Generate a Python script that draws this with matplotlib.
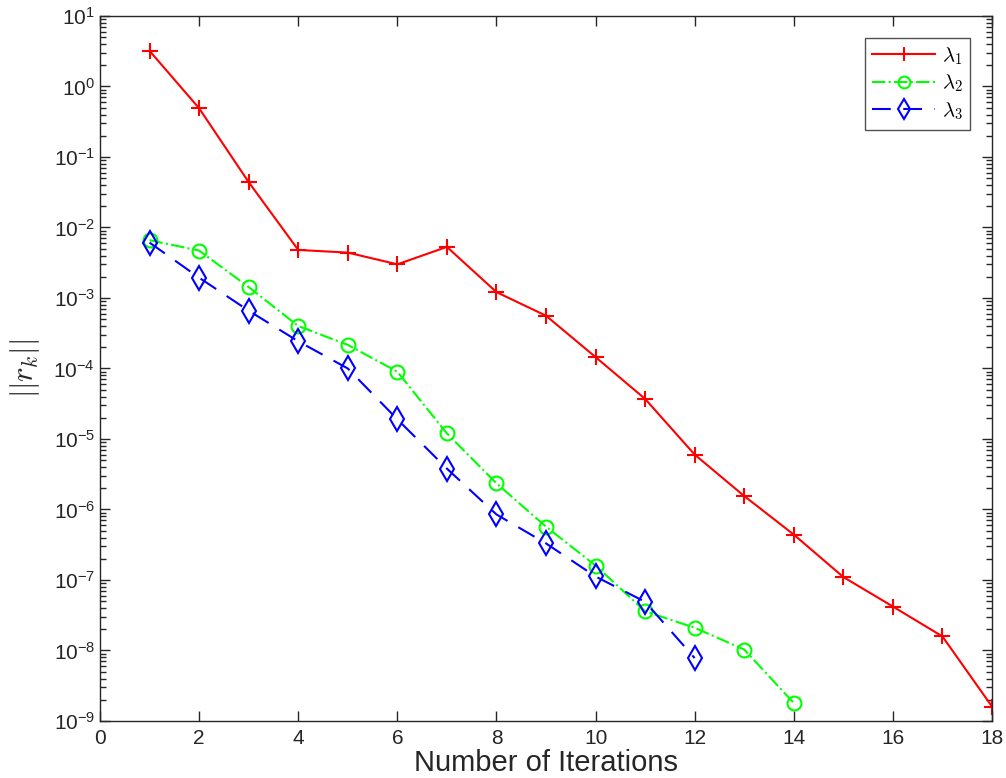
import matplotlib
matplotlib.use("Agg")
import matplotlib.pyplot as plt
from matplotlib.ticker import LogLocator, NullFormatter, FixedLocator, FuncFormatter
import math

iters_1 = list(range(1, 19))
res_1 = [3.2, 0.49, 0.044, 4.8e-3, 4.4e-3, 3.0e-3, 5.3e-3, 1.21e-3, 5.6e-4,
         1.45e-4, 3.7e-5, 6.0e-6, 1.55e-6, 4.4e-7, 1.1e-7, 4.2e-8, 1.58e-8, 1.6e-9]

iters_2 = list(range(1, 15))
res_2 = [6.6e-3, 4.7e-3, 1.43e-3, 4.0e-4, 2.16e-4, 9.0e-5, 1.2e-5, 2.35e-6,
         5.7e-7, 1.6e-7, 3.6e-8, 2.1e-8, 1.03e-8, 1.8e-9]

iters_3 = list(range(1, 13))
res_3 = [6.1e-3, 1.94e-3, 6.6e-4, 2.43e-4, 1.0e-4, 1.9e-5, 3.8e-6, 8.5e-7,
         3.3e-7, 1.12e-7, 4.9e-8, 7.8e-9]

labels = [r"$\lambda_1$", r"$\lambda_2$", r"$\lambda_3$"]
x_ticks = list(range(0, 19, 2))

plt.rcParams["mathtext.fontset"] = "cm"
plt.rcParams["font.family"] = ["Liberation Sans", "DejaVu Sans"]
plt.rcParams["axes.unicode_minus"] = False
axis_grey = "#262626"


def decade_label(v, pos):
    e = int(round(math.log10(v)))
    return r"$\mathregular{10^{%d}}$" % e


fig = plt.figure(figsize=(10.06, 7.78), dpi=100)
ax = fig.add_axes([0.0994, 0.0733, 0.8867, 0.9062])

ax.plot(iters_1, res_1, color=(1, 0, 0), linestyle="-", marker="+",
        markersize=12, markeredgewidth=1.5, linewidth=1.5, label=labels[0])
ax.plot(iters_2, res_2, color=(0, 1, 0), linestyle="-.", marker="o",
        markersize=10, markerfacecolor="none", markeredgewidth=1.5,
        linewidth=1.5, label=labels[1])
ax.plot(iters_3, res_3, color=(0, 0, 1), linestyle=(0, (9, 6)), marker="d",
        markersize=12, markerfacecolor="none", markeredgewidth=1.5,
        linewidth=1.5, label=labels[2])

ax.set_yscale("log")
ax.set_xlim(0, 18)
ax.set_ylim(1e-9, 1e1)
ax.xaxis.set_major_locator(FixedLocator(x_ticks))
ax.yaxis.set_major_locator(LogLocator(base=10, numticks=20))
ax.yaxis.set_major_formatter(FuncFormatter(decade_label))
ax.yaxis.set_minor_locator(LogLocator(base=10, subs=range(2, 10), numticks=20))
ax.yaxis.set_minor_formatter(NullFormatter())

ax.tick_params(which="both", direction="in", top=True, right=True,
               colors=axis_grey, labelsize=15, width=1.0)
ax.tick_params(which="major", length=7)
ax.tick_params(which="minor", length=4)
ax.tick_params(axis="x", which="minor", bottom=False, top=False)
ax.tick_params(axis="x", pad=6)
for sp in ax.spines.values():
    sp.set_color(axis_grey)
    sp.set_linewidth(1.0)

ax.set_xlabel("Number of Iterations", fontsize=21, color=axis_grey)
ax.xaxis.label.set_va("baseline")
ax.xaxis.set_label_coords(0.5, -0.071)
ax.set_ylabel(r"$||r_k||$", fontsize=22, color=axis_grey, labelpad=8)

leg = ax.legend(loc="upper right", fontsize=15, frameon=True, fancybox=False,
                edgecolor="#262626", borderaxespad=1.05, handlelength=3.0,
                handletextpad=0.35, labelspacing=0.3, borderpad=0.35,
                markerscale=0.85)
leg.get_frame().set_linewidth(1.0)

fig.savefig("out.png", dpi=100)
